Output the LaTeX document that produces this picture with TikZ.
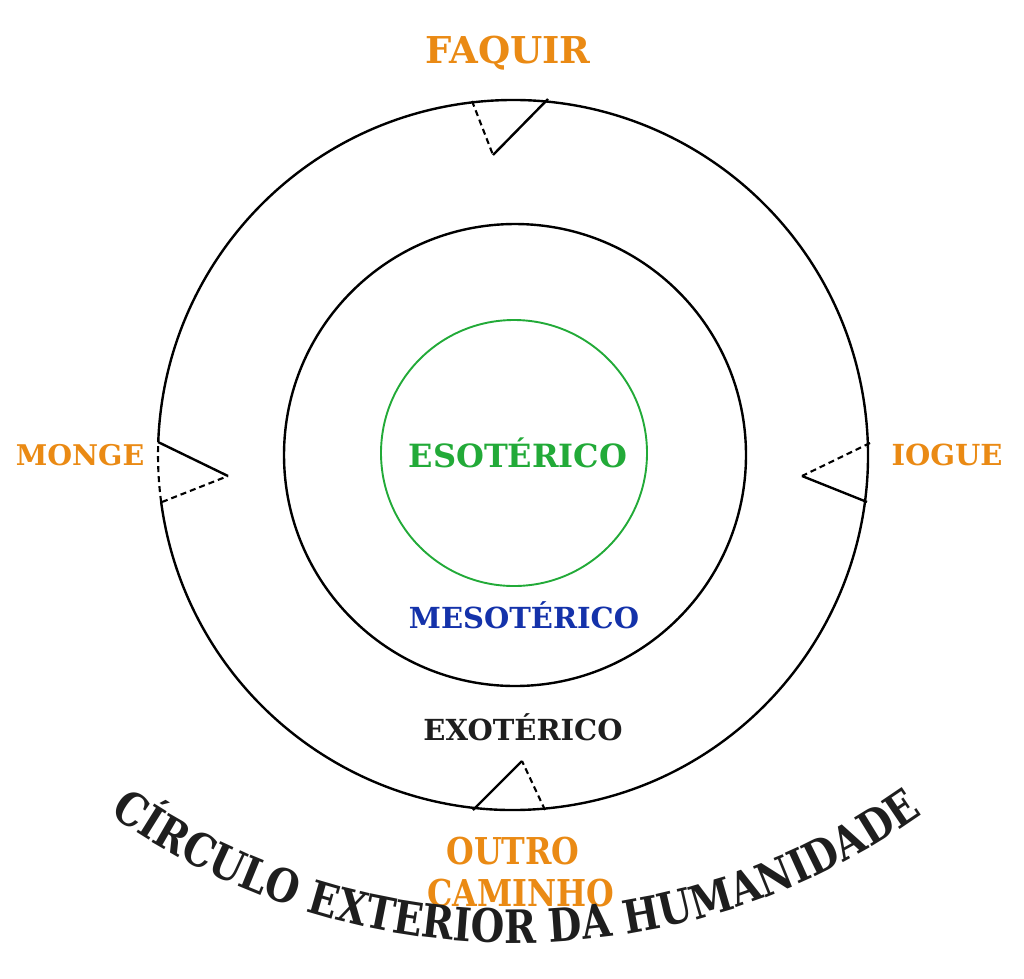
\documentclass[tikz,border=0pt]{standalone}
\usepackage{fontspec}
\setmainfont{DejaVu Serif}
\newfontfamily\arcfont[FakeStretch=0.84]{DejaVu Serif}
\newfontfamily\wayfont[FakeStretch=0.86]{DejaVu Serif}
\usetikzlibrary{decorations.text}
\definecolor{wayorange}{RGB}{234,138,20}
\definecolor{esogreen}{RGB}{34,170,56}
\definecolor{mesoblue}{RGB}{20,50,170}
\definecolor{exoblack}{RGB}{30,30,30}

\tikzstyle{ring} = [circle, draw, line width=2.4pt, inner sep=0pt]
\tikzstyle{way} = [anchor=base, text=wayorange, font=\bfseries\fontsize{29}{33}\selectfont]
\tikzstyle{band} = [anchor=base, font=\bfseries\fontsize{29}{33}\selectfont]
\tikzstyle{gate} = [line width=2.4pt]
\tikzstyle{open} = [line width=2.1pt, dash pattern=on 6pt off 4pt]

\begin{document}
\begin{tikzpicture}[x=1pt, y=-1pt]
\useasboundingbox (0,0) rectangle (1024,978);
\coordinate (c) at (513,455);
\node [ring, minimum size=462pt] (meso) at (515,455) {};
\node [ring, draw=esogreen, line width=1.9pt, minimum size=266pt] (eso) at (514,453) {};
\draw [gate] (c) ++(172.4:355) arc [start angle=172.4, end angle=-177.9, radius=355];
\draw [open] (c) ++(172.4:355) arc [start angle=172.4, end angle=182.1, radius=355];

\coordinate (faquirA) at (472,101);
\coordinate (faquirB) at (548,99);
\coordinate (faquirT) at (493,155);
\coordinate (iogueA) at (870,443);
\coordinate (iogueB) at (867,502);
\coordinate (iogueT) at (802,476);
\coordinate (mongeA) at (158,442);
\coordinate (mongeB) at (162,502);
\coordinate (mongeT) at (228,476);
\coordinate (outroA) at (473,810);
\coordinate (outroB) at (545,810);
\coordinate (outroT) at (522,761);
\draw [open] (faquirA) -- (faquirT);
\draw [gate] (faquirB) -- (faquirT);
\draw [open] (iogueA) -- (iogueT);
\draw [gate] (iogueB) -- (iogueT);
\draw [gate] (mongeA) -- (mongeT);
\draw [open] (mongeB) -- (mongeT);
\draw [gate] (outroA) -- (outroT);
\draw [open] (outroB) -- (outroT);

\node [way, font=\bfseries\fontsize{37}{41}\selectfont] (faquir) at (508,63) {FAQUIR};
\node [way, font=\bfseries\fontsize{28.5}{32}\selectfont] (monge) at (80,465) {MONGE};
\node [way] (iogue) at (947,465) {IOGUE};
\node [way, font=\wayfont\bfseries\fontsize{37}{41}\selectfont] (outro) at (513,864) {OUTRO};
\node [way, font=\wayfont\bfseries\fontsize{37}{41}\selectfont] (caminho) at (521,906) {CAMINHO};

\node [band, text=esogreen, font=\bfseries\fontsize{32}{36}\selectfont] (esoterico) at (518,467) {ESOTÉRICO};
\node [band, text=mesoblue] (mesoterico) at (524,628) {MESOTÉRICO};
\node [band, text=exoblack] (exoterico) at (523,740) {EXOTÉRICO};

\path [decorate, decoration={text along path, text color=exoblack, text align=center,
  text={|\arcfont\bfseries\fontsize{46}{50}\selectfont|CÍRCULO EXTERIOR DA HUMANIDADE}}]
  (516,238) ++(128:705) arc [start angle=128, end angle=52, radius=705];
\end{tikzpicture}
\end{document}
